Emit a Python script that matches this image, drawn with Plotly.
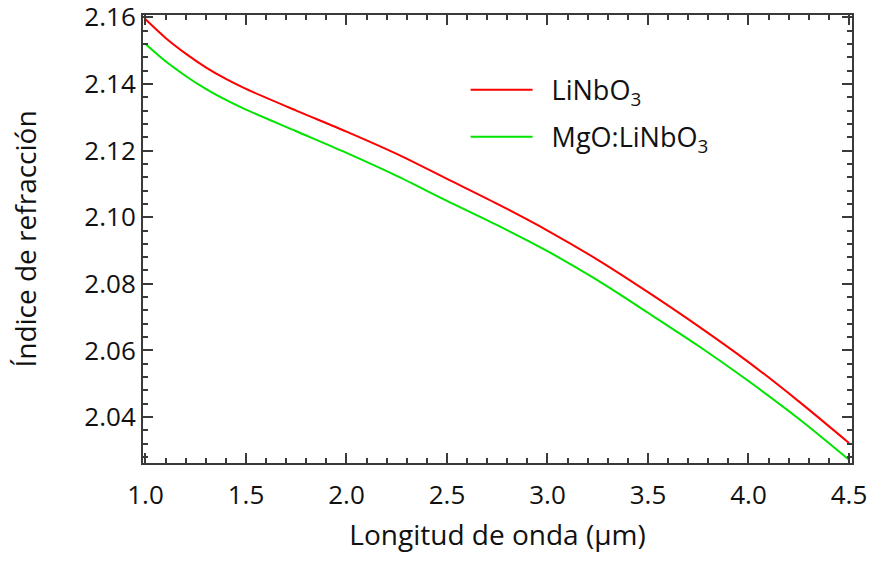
import plotly.graph_objects as go

wavelength = [1.0, 1.1, 1.2, 1.3, 1.4, 1.5, 1.75, 2.0, 2.25, 2.5, 2.75, 3.0, 3.25, 3.5, 3.75, 4.0, 4.25, 4.5]
n_linbo3 = [2.1594, 2.1538, 2.1491, 2.1450, 2.1415, 2.1385, 2.1320, 2.1257, 2.1190, 2.1115,
            2.1040, 2.0960, 2.0872, 2.0775, 2.0673, 2.0565, 2.0447, 2.0322]
n_mgo = [2.1520, 2.1468, 2.1424, 2.1385, 2.1352, 2.1323, 2.1258, 2.1193, 2.1124, 2.1049,
         2.0976, 2.0898, 2.0810, 2.0713, 2.0614, 2.0508, 2.0395, 2.0272]

x_ticks = [1.0, 1.5, 2.0, 2.5, 3.0, 3.5, 4.0, 4.5]
y_ticks = [2.04, 2.06, 2.08, 2.10, 2.12, 2.14, 2.16]

FONT = "Open Sans"
AX = "#3a3a3a"
TXT = "#111111"
NB = "\u00a0\u00a0"

fig = go.Figure()
fig.add_trace(go.Scatter(x=wavelength, y=n_linbo3, mode="lines", name=NB + "LiNbO<sub>3</sub>",
                         legendgroup="a",
                         line=dict(color="#ff0000", width=2, shape="spline", smoothing=0.8)))
fig.add_trace(go.Scatter(x=wavelength, y=n_mgo, mode="lines", name=NB + "MgO:LiNbO<sub>3</sub>",
                         legendgroup="b",
                         line=dict(color="#00e400", width=2, shape="spline", smoothing=0.8)))

axis_common = dict(
    showgrid=False, zeroline=False, showline=True, linecolor=AX, linewidth=2,
    mirror="allticks", ticks="inside", ticklen=10, tickwidth=2, tickcolor=AX,
    tickfont=dict(family=FONT, size=26, color=TXT), ticklabeloverflow="allow",
    automargin=False,
)

fig.update_xaxes(range=[0.9876, 4.515], tickvals=x_ticks,
                 ticktext=[f"{v:.1f}" for v in x_ticks],
                 minor=dict(ticks="inside", dtick=0.1, ticklen=5, tickcolor=AX, tickwidth=1.5),
                 ticklabelstandoff=8,
                 title=dict(text="Longitud de onda (μm)", font=dict(family=FONT, size=28, color=TXT),
                            standoff=14),
                 **axis_common)
fig.update_yaxes(range=[2.0262, 2.1607], tickvals=y_ticks,
                 ticktext=[f"{v:.2f}" for v in y_ticks],
                 minor=dict(ticks="inside", dtick=0.004, ticklen=5, tickcolor=AX, tickwidth=1.5),
                 title=dict(text="Índice de refracción", font=dict(family=FONT, size=28, color=TXT),
                            standoff=40),
                 **axis_common)

fig.update_layout(
    width=875, height=561,
    margin=dict(l=143, r=23, t=15, b=98),
    plot_bgcolor="white", paper_bgcolor="white",
    legend=dict(x=0.455, y=0.887, xanchor="left", yanchor="top",
                bgcolor="rgba(0,0,0,0)", itemwidth=62,
                font=dict(family=FONT, size=27, color=TXT),
                tracegroupgap=9),
    showlegend=True,
)

fig.write_html("out.html", config={"displayModeBar": False},
               post_script="document.body.style.margin='0';")
